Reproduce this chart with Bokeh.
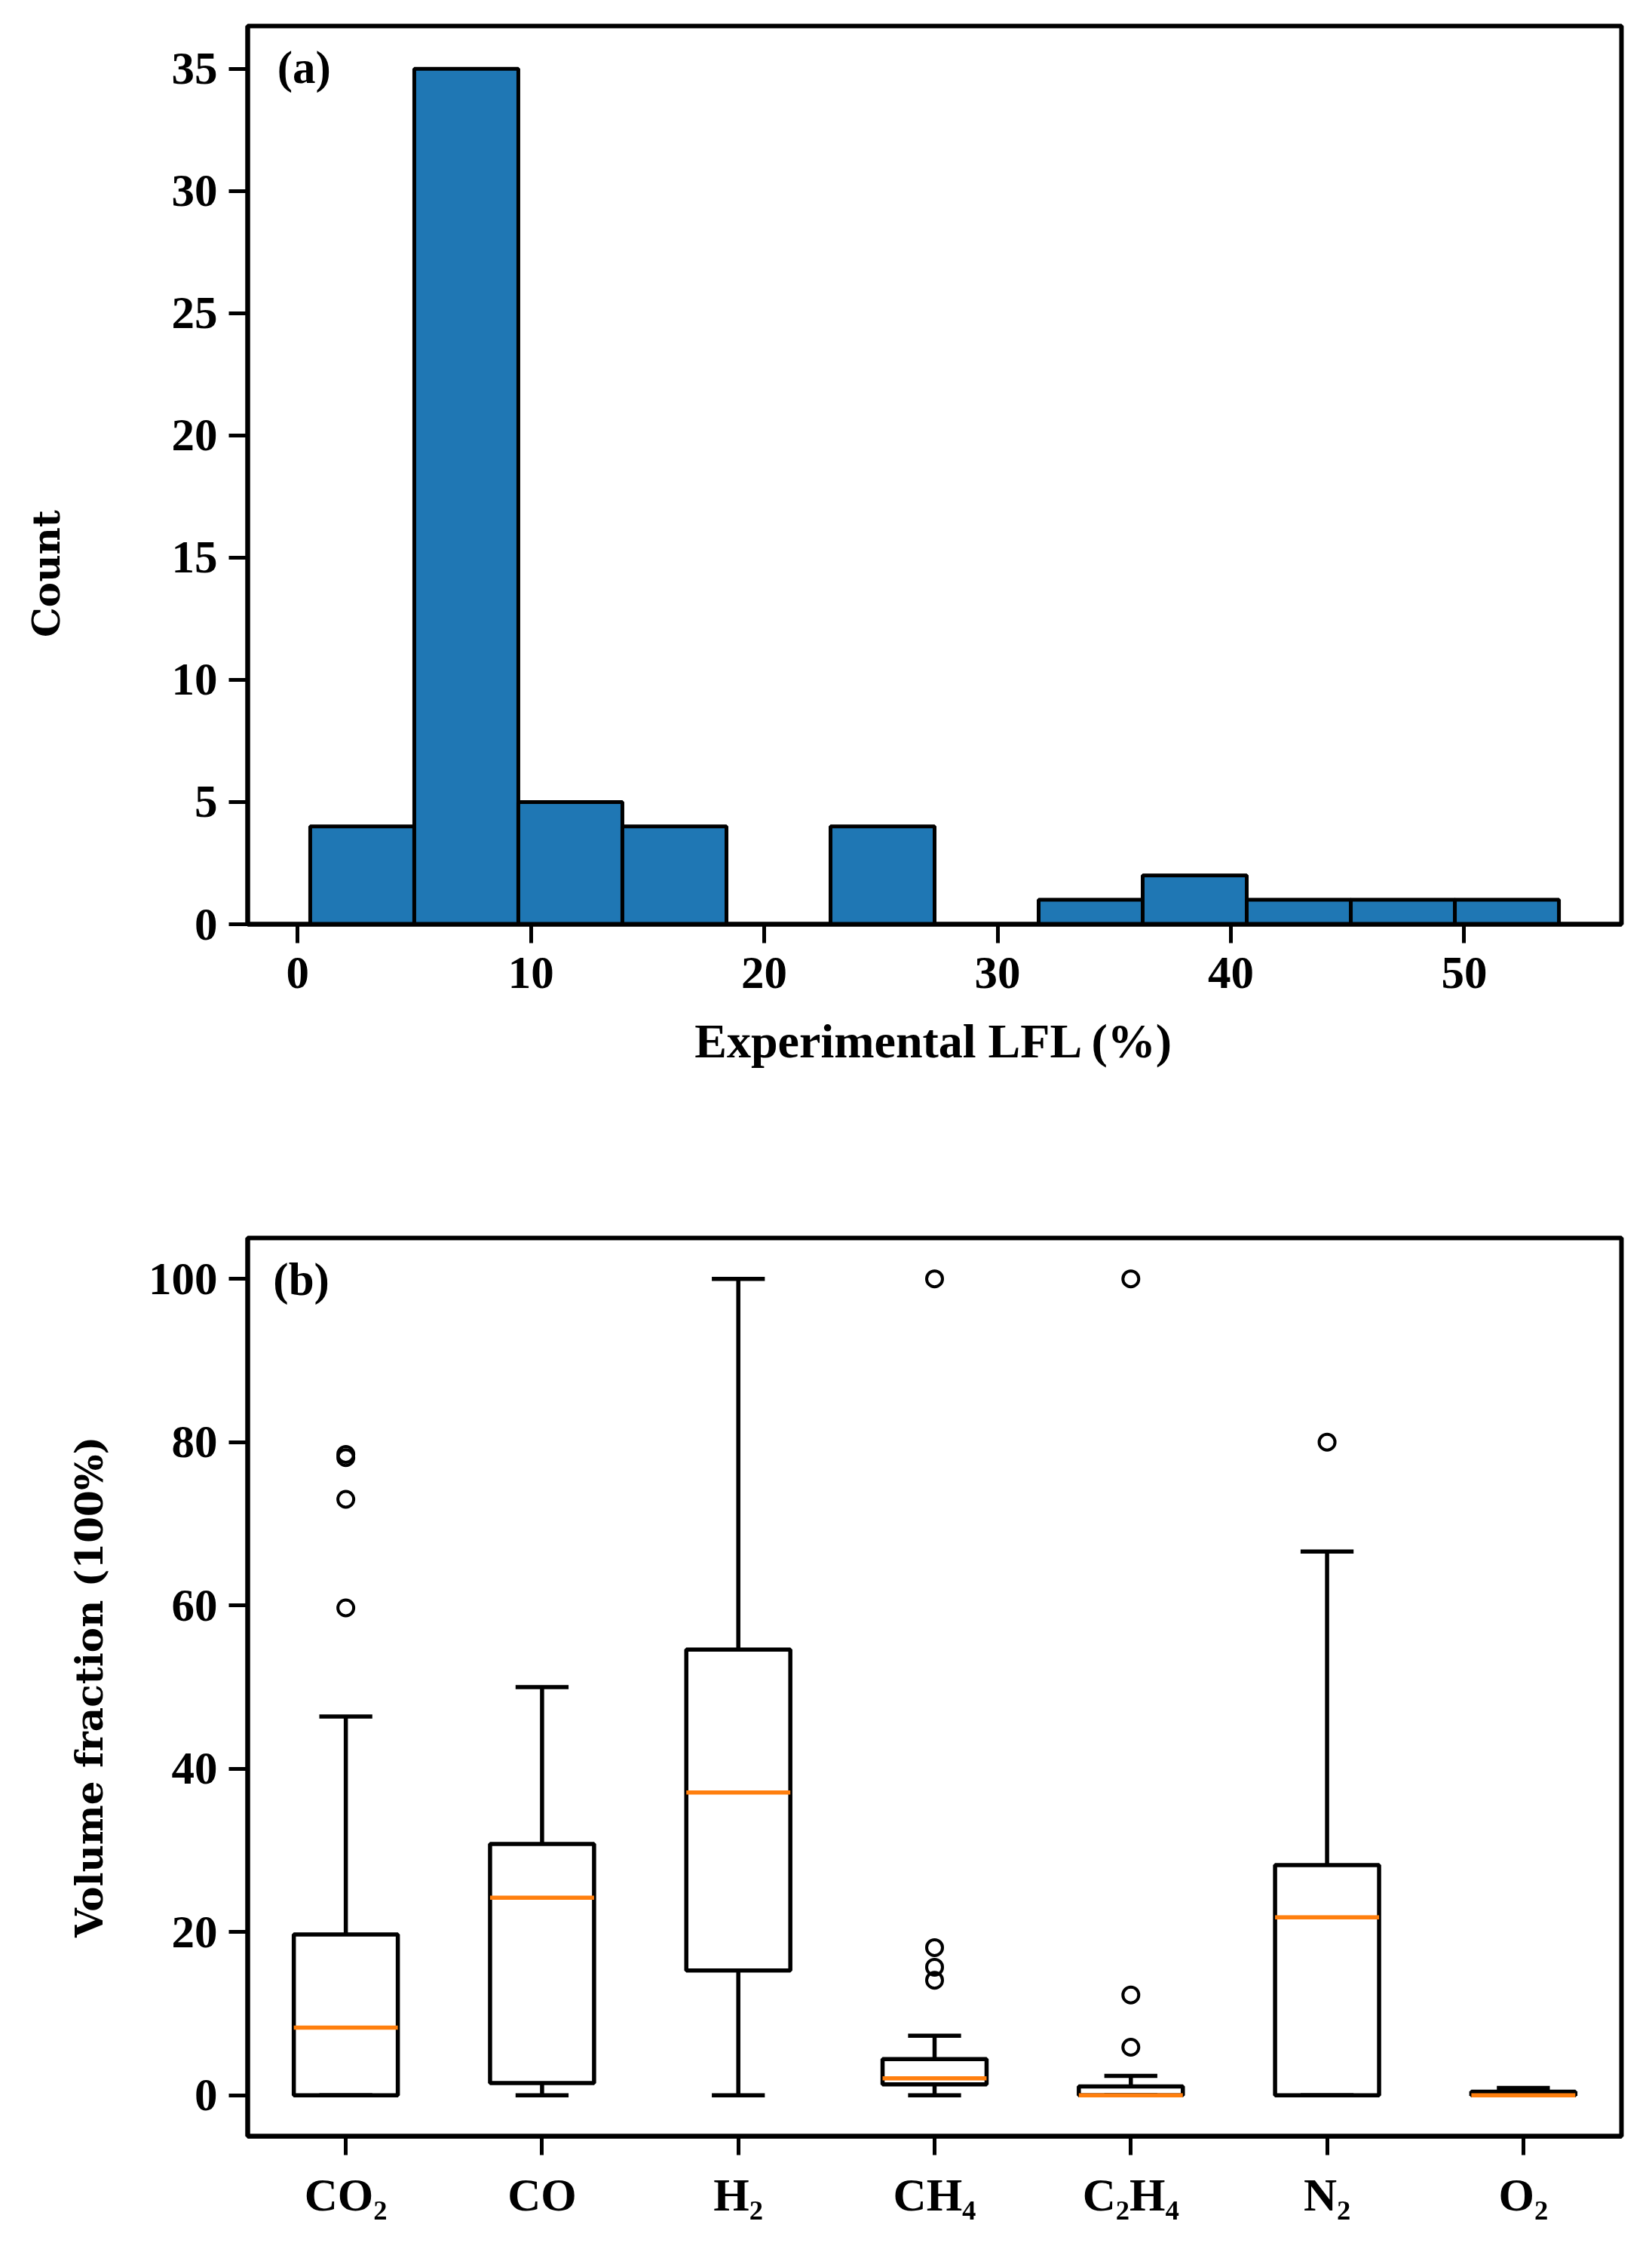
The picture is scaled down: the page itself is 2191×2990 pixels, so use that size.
from bokeh.plotting import figure
from bokeh.layouts import column
from bokeh.models import FixedTicker, Range1d, ColumnDataSource
from bokeh.embed import file_html
from bokeh.resources import INLINE
from bokeh.core.properties import value

# ---------------- data: panel (a) histogram of experimental LFL (%)
bin_edges = [0.54, 5.00, 9.46, 13.92, 18.38, 22.84, 27.30, 31.76, 36.22, 40.68, 45.14, 49.60, 54.06]
bin_counts = [4, 35, 5, 4, 0, 4, 0, 1, 2, 1, 1, 1]
hist_xticks = [0, 10, 20, 30, 40, 50]
hist_yticks = [0, 5, 10, 15, 20, 25, 30, 35]

# ---------------- data: panel (b) box plot of volume fractions
gases = ["CO₂", "CO", "H₂", "CH₄", "C₂H₄", "N₂", "O₂"]
whisker_low = [0.0, 0.0, 0.0, 0.0, 0.0, 0.0, 0.0]
q1 = [0.0, 1.5, 15.3, 1.35, 0.0, 0.0, 0.0]
median = [8.3, 24.2, 37.1, 2.1, 0.0, 21.8, 0.0]
q3 = [19.7, 30.8, 54.6, 4.45, 1.1, 28.2, 0.45]
whisker_high = [46.4, 50.0, 100.0, 7.3, 2.4, 66.6, 0.9]
outliers_co2 = [78.5, 78.1, 73.0, 59.7]
outliers_co = []
outliers_h2 = []
outliers_ch4 = [100.0, 18.1, 15.7, 14.1]
outliers_c2h4 = [100.0, 12.3, 5.9]
outliers_n2 = [80.0]
outliers_o2 = []
box_yticks = [0, 20, 40, 60, 80, 100]

TICK_FONT = "Liberation Serif"
LABEL_FONT = "DejaVu Serif"
BLACK = "black"
LW = 5.5


def style_axes(p):
    p.xgrid.visible = False
    p.ygrid.visible = False
    p.outline_line_color = BLACK
    p.outline_line_width = 6
    p.background_fill_color = "white"
    p.border_fill_color = "white"
    for ax in (p.xaxis, p.yaxis):
        ax.axis_line_width = 6
        ax.axis_line_color = BLACK
        ax.major_tick_line_width = 5
        ax.major_tick_line_color = BLACK
        ax.major_tick_out = 25
        ax.major_tick_in = 0
        ax.minor_tick_line_color = None
        ax.major_label_text_font = TICK_FONT
        ax.major_label_text_font_style = "bold"
        ax.major_label_text_font_size = "61px"
        ax.major_label_text_color = BLACK
        ax.axis_label_text_color = BLACK
        ax.axis_label_text_font_style = "bold"


# ---------------- panel (a)
p1 = figure(width=2175, height=1450,
            x_range=Range1d(-2.14, 56.74), y_range=Range1d(0, 36.75),
            output_backend="svg", toolbar_location=None,
            min_border_left=328, min_border_right=25,
            min_border_top=34, min_border_bottom=225)
style_axes(p1)

hist_src = ColumnDataSource(dict(left=bin_edges[:-1], right=bin_edges[1:],
                                 top=bin_counts, bottom=[0] * len(bin_counts)))
p1.quad(left="left", right="right", top="top", bottom="bottom", source=hist_src,
        fill_color="#1f77b4", line_color=BLACK, line_width=5)

p1.xaxis.ticker = FixedTicker(ticks=hist_xticks)
p1.yaxis.ticker = FixedTicker(ticks=hist_yticks)
p1.xaxis.major_label_standoff = 19
p1.yaxis.major_label_standoff = 15
p1.xaxis.axis_label = "Experimental LFL (%)"
p1.xaxis.axis_label_text_font = TICK_FONT
p1.xaxis.axis_label_text_font_size = "64px"
p1.xaxis.axis_label_standoff = 32
# in the reference the "Count" label sits below the frame centre:
# trailing no-break spaces push the visible word downwards
p1.yaxis.axis_label = "Count" + "\u00a0" * 15
p1.yaxis.axis_label_text_font = LABEL_FONT
p1.yaxis.axis_label_text_font_size = "50px"
p1.yaxis.axis_label_standoff = 134

p1.text(x=[-0.87], y=[36.1], text=["(a)"], text_font=value(TICK_FONT),
        text_font_style="bold", text_font_size="61px", text_color=BLACK,
        text_align="left", text_baseline="top")

# ---------------- panel (b)
positions = list(range(1, len(gases) + 1))
box_w = 0.53
cap_w = 0.27

p2 = figure(width=2175, height=1532,
            x_range=Range1d(0.5, 7.5), y_range=Range1d(-5, 105),
            output_backend="svg", toolbar_location=None,
            min_border_left=328, min_border_right=25,
            min_border_top=191, min_border_bottom=150)
style_axes(p2)

box_src = ColumnDataSource(dict(
    x=positions, q1=q1, q3=q3, med=median, lo=whisker_low, hi=whisker_high,
    bl=[x - box_w / 2 for x in positions], br=[x + box_w / 2 for x in positions],
    cl=[x - cap_w / 2 for x in positions], cr=[x + cap_w / 2 for x in positions]))

# boxes
p2.vbar(x="x", width=box_w, bottom="q1", top="q3", source=box_src,
        fill_color=None, line_color=BLACK, line_width=LW)
# whiskers
p2.segment(x0="x", y0="q3", x1="x", y1="hi", source=box_src, line_color=BLACK, line_width=LW)
p2.segment(x0="x", y0="q1", x1="x", y1="lo", source=box_src, line_color=BLACK, line_width=LW)
# caps
p2.segment(x0="cl", y0="hi", x1="cr", y1="hi", source=box_src, line_color=BLACK, line_width=LW)
p2.segment(x0="cl", y0="lo", x1="cr", y1="lo", source=box_src, line_color=BLACK, line_width=LW)
# medians
p2.segment(x0="bl", y0="med", x1="br", y1="med", source=box_src, line_color="#ff7f0e", line_width=LW)

# outliers
all_outliers = [outliers_co2, outliers_co, outliers_h2, outliers_ch4,
                outliers_c2h4, outliers_n2, outliers_o2]
ox, oy = [], []
for pos, vals in zip(positions, all_outliers):
    for v in vals:
        ox.append(pos)
        oy.append(v)
p2.scatter(x=ox, y=oy, marker="circle", size=21, fill_color=None,
           line_color=BLACK, line_width=4)

p2.xaxis.ticker = FixedTicker(ticks=positions)
p2.xaxis.major_label_overrides = {pos: g for pos, g in zip(positions, gases)}
p2.yaxis.ticker = FixedTicker(ticks=box_yticks)
p2.xaxis.major_label_standoff = 19
p2.yaxis.major_label_standoff = 15
p2.yaxis.axis_label = "Volume fraction (100%)"
p2.yaxis.axis_label_text_font = LABEL_FONT
p2.yaxis.axis_label_text_font_size = "50px"
p2.yaxis.axis_label_standoff = 46

p2.text(x=[0.63], y=[103.0], text=["(b)"], text_font=value(TICK_FONT),
        text_font_style="bold", text_font_size="61px", text_color=BLACK,
        text_align="left", text_baseline="top")

layout = column(p1, p2)
open("out.html", "w").write(file_html(layout, INLINE))
